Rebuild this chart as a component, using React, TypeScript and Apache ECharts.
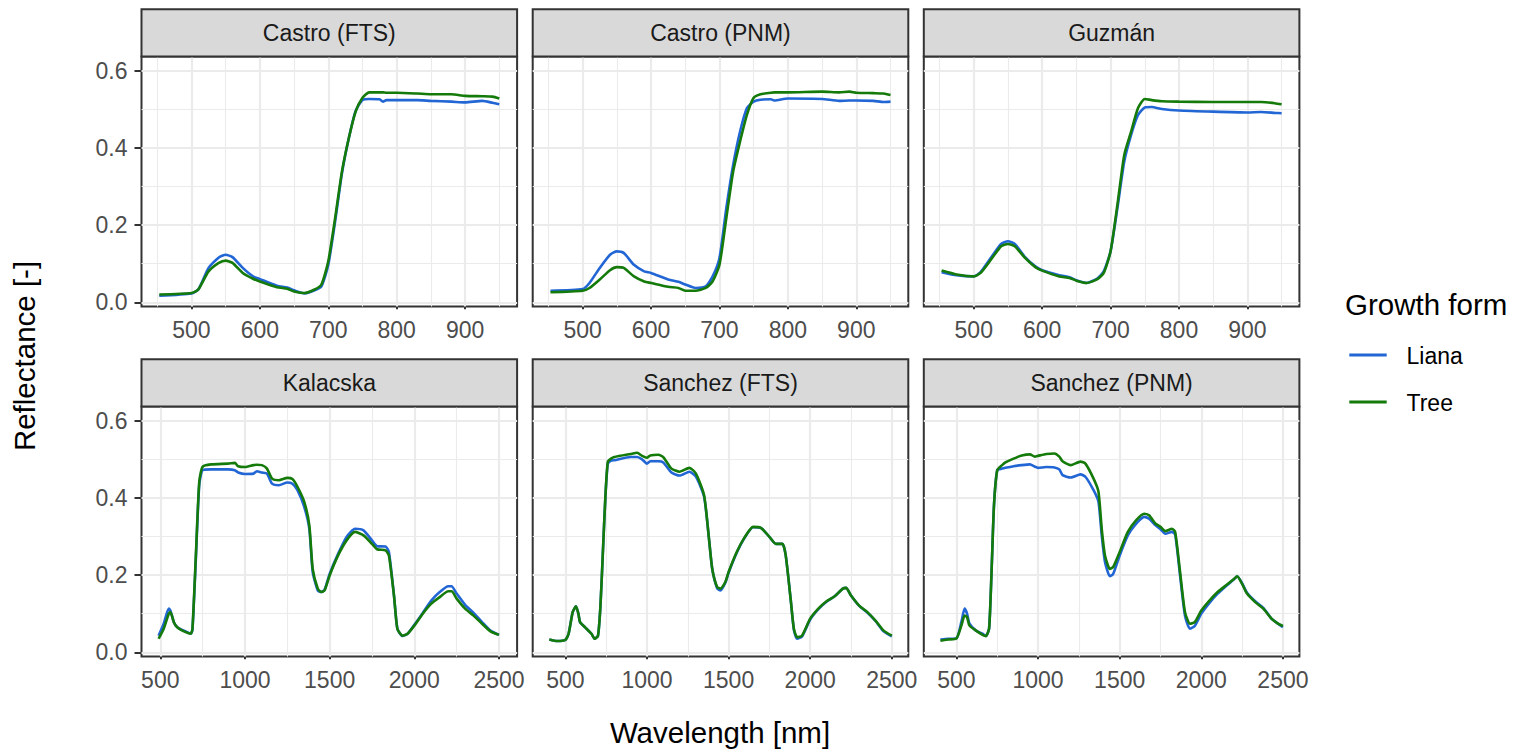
import React, { useEffect, useRef } from "react";
import * as echarts from "echarts";

const FONT = '"Liberation Sans", Arial, Helvetica, sans-serif';
const LIANA_COLOR = "#2166d4";
const TREE_COLOR = "#147a0a";

// ---- tick labels / grid values ----
const yTicks = [0, 0.2, 0.4, 0.6];
const yMinor = [0.1, 0.3, 0.5];
const topXTicks = [500, 600, 700, 800, 900];
const topXMinor = [450, 550, 650, 750, 850, 950];
const bottomXTicks = [500, 1000, 1500, 2000, 2500];
const bottomXMinor = [750, 1250, 1750, 2250];

// ---- Castro (FTS) ----
const castroFtsWl = [453, 500, 510, 525, 540, 550, 560, 575, 590, 600, 625, 640, 650, 665, 680, 690, 700, 710, 720, 730, 740, 750, 760, 775, 780, 785, 800, 830, 850, 880, 900, 925, 940, 950];
const castroFtsLiana = [0.017, 0.023, 0.033, 0.089, 0.116, 0.123, 0.117, 0.089, 0.067, 0.06, 0.043, 0.038, 0.031, 0.023, 0.031, 0.041, 0.097, 0.209, 0.334, 0.425, 0.496, 0.524, 0.527, 0.526, 0.52, 0.524, 0.524, 0.524, 0.522, 0.52, 0.518, 0.522, 0.517, 0.513];
const castroFtsTree = [0.02, 0.024, 0.033, 0.08, 0.102, 0.108, 0.102, 0.076, 0.061, 0.054, 0.039, 0.035, 0.028, 0.024, 0.033, 0.046, 0.106, 0.218, 0.339, 0.425, 0.494, 0.53, 0.544, 0.544, 0.544, 0.543, 0.543, 0.541, 0.539, 0.539, 0.535, 0.534, 0.533, 0.528];

// ---- Castro (PNM) ----
const castroPnmWl = [453, 500, 510, 525, 540, 550, 560, 575, 590, 600, 625, 640, 650, 665, 680, 690, 700, 710, 720, 730, 740, 750, 760, 775, 780, 800, 850, 875, 890, 900, 925, 940, 950];
const castroPnmLiana = [0.03, 0.034, 0.05, 0.089, 0.123, 0.132, 0.128, 0.097, 0.08, 0.076, 0.059, 0.053, 0.046, 0.037, 0.041, 0.067, 0.115, 0.244, 0.356, 0.442, 0.503, 0.52, 0.525, 0.526, 0.523, 0.528, 0.527, 0.522, 0.523, 0.523, 0.522, 0.519, 0.52];
const castroPnmTree = [0.026, 0.03, 0.037, 0.059, 0.083, 0.091, 0.089, 0.067, 0.054, 0.05, 0.04, 0.037, 0.03, 0.03, 0.037, 0.054, 0.097, 0.218, 0.339, 0.416, 0.485, 0.53, 0.539, 0.543, 0.544, 0.544, 0.546, 0.544, 0.546, 0.543, 0.542, 0.541, 0.537];

// ---- Guzmán ----
const guzmanWl = [453, 475, 500, 510, 525, 540, 550, 560, 575, 590, 600, 625, 640, 650, 665, 680, 690, 700, 710, 720, 730, 740, 750, 760, 775, 800, 850, 900, 920, 940, 950];
const guzmanLiana = [0.078, 0.07, 0.067, 0.078, 0.115, 0.151, 0.158, 0.151, 0.117, 0.093, 0.083, 0.07, 0.065, 0.057, 0.05, 0.061, 0.08, 0.132, 0.244, 0.365, 0.434, 0.485, 0.505, 0.506, 0.501, 0.497, 0.494, 0.492, 0.493, 0.491, 0.49];
const guzmanTree = [0.082, 0.072, 0.067, 0.076, 0.11, 0.145, 0.151, 0.145, 0.115, 0.091, 0.082, 0.067, 0.063, 0.056, 0.05, 0.059, 0.076, 0.132, 0.253, 0.382, 0.442, 0.503, 0.527, 0.524, 0.521, 0.52, 0.519, 0.519, 0.519, 0.516, 0.513];

// ---- Kalacska ----
const kalacskaWl = [490, 520, 550, 560, 580, 600, 650, 680, 690, 710, 730, 750, 800, 900, 940, 960, 1000, 1050, 1070, 1100, 1130, 1160, 1200, 1250, 1280, 1310, 1350, 1380, 1400, 1430, 1450, 1470, 1500, 1550, 1600, 1650, 1700, 1750, 1780, 1830, 1850, 1880, 1900, 1930, 1960, 2000, 2050, 2100, 2150, 2200, 2220, 2250, 2300, 2350, 2400, 2450, 2500];
const kalacskaLiana = [0.043, 0.074, 0.113, 0.108, 0.078, 0.065, 0.054, 0.048, 0.059, 0.242, 0.433, 0.472, 0.474, 0.474, 0.472, 0.466, 0.462, 0.463, 0.469, 0.466, 0.463, 0.437, 0.433, 0.44, 0.437, 0.42, 0.377, 0.32, 0.208, 0.16, 0.156, 0.162, 0.203, 0.255, 0.299, 0.32, 0.316, 0.29, 0.275, 0.274, 0.26, 0.147, 0.061, 0.042, 0.048, 0.071, 0.102, 0.134, 0.156, 0.171, 0.171, 0.152, 0.123, 0.102, 0.078, 0.056, 0.045];
const kalacskaTree = [0.035, 0.061, 0.1, 0.104, 0.078, 0.065, 0.052, 0.048, 0.061, 0.251, 0.442, 0.481, 0.487, 0.489, 0.491, 0.482, 0.48, 0.485, 0.486, 0.485, 0.476, 0.45, 0.446, 0.452, 0.449, 0.429, 0.39, 0.329, 0.216, 0.165, 0.156, 0.16, 0.199, 0.251, 0.29, 0.312, 0.303, 0.281, 0.267, 0.264, 0.251, 0.147, 0.061, 0.043, 0.048, 0.069, 0.1, 0.126, 0.143, 0.158, 0.158, 0.139, 0.113, 0.095, 0.074, 0.054, 0.045];

// ---- Sanchez (FTS) ----
const sanchezFtsWl = [402, 450, 500, 520, 545, 565, 580, 590, 620, 660, 680, 700, 715, 730, 745, 760, 780, 800, 900, 940, 970, 1000, 1020, 1070, 1100, 1150, 1200, 1260, 1300, 1350, 1380, 1400, 1430, 1450, 1480, 1500, 1550, 1600, 1650, 1700, 1750, 1790, 1830, 1850, 1880, 1900, 1920, 1950, 2000, 2050, 2100, 2150, 2200, 2220, 2250, 2300, 2350, 2400, 2450, 2500];
const sanchezFtsLiana = [0.033, 0.029, 0.032, 0.048, 0.104, 0.119, 0.1, 0.078, 0.065, 0.048, 0.035, 0.043, 0.12, 0.26, 0.4, 0.488, 0.497, 0.498, 0.506, 0.506, 0.5, 0.489, 0.495, 0.495, 0.492, 0.466, 0.458, 0.468, 0.455, 0.403, 0.294, 0.216, 0.166, 0.16, 0.18, 0.206, 0.258, 0.298, 0.324, 0.322, 0.299, 0.281, 0.281, 0.251, 0.139, 0.058, 0.035, 0.041, 0.085, 0.112, 0.131, 0.145, 0.165, 0.167, 0.147, 0.12, 0.103, 0.081, 0.054, 0.041];
const sanchezFtsTree = [0.033, 0.029, 0.032, 0.048, 0.104, 0.119, 0.1, 0.078, 0.065, 0.048, 0.035, 0.043, 0.12, 0.26, 0.4, 0.494, 0.502, 0.506, 0.514, 0.517, 0.509, 0.504, 0.51, 0.512, 0.506, 0.476, 0.468, 0.478, 0.463, 0.407, 0.294, 0.216, 0.169, 0.165, 0.182, 0.208, 0.26, 0.299, 0.325, 0.322, 0.299, 0.281, 0.281, 0.251, 0.139, 0.061, 0.039, 0.043, 0.087, 0.113, 0.132, 0.145, 0.165, 0.167, 0.147, 0.121, 0.104, 0.082, 0.056, 0.043];

// ---- Sanchez (PNM) ----
const sanchezPnmWl = [402, 450, 500, 530, 550, 565, 580, 620, 660, 680, 700, 715, 730, 750, 780, 800, 850, 900, 950, 980, 1000, 1050, 1100, 1130, 1150, 1200, 1260, 1290, 1340, 1370, 1390, 1410, 1440, 1460, 1500, 1550, 1600, 1650, 1680, 1720, 1750, 1780, 1820, 1840, 1870, 1900, 1930, 1960, 2000, 2050, 2100, 2150, 2200, 2220, 2250, 2280, 2330, 2380, 2430, 2470, 2500];
const sanchezPnmLiana = [0.033, 0.035, 0.036, 0.078, 0.113, 0.1, 0.074, 0.056, 0.048, 0.042, 0.061, 0.208, 0.381, 0.472, 0.476, 0.478, 0.482, 0.485, 0.487, 0.481, 0.478, 0.48, 0.479, 0.474, 0.459, 0.453, 0.461, 0.455, 0.42, 0.39, 0.303, 0.234, 0.197, 0.203, 0.251, 0.303, 0.333, 0.351, 0.346, 0.329, 0.319, 0.307, 0.312, 0.305, 0.199, 0.095, 0.061, 0.068, 0.1, 0.128, 0.152, 0.171, 0.189, 0.197, 0.179, 0.154, 0.132, 0.115, 0.087, 0.074, 0.065];
const sanchezPnmTree = [0.03, 0.033, 0.036, 0.069, 0.095, 0.091, 0.069, 0.056, 0.045, 0.042, 0.061, 0.208, 0.381, 0.472, 0.485, 0.492, 0.502, 0.51, 0.513, 0.507, 0.509, 0.514, 0.515, 0.507, 0.495, 0.485, 0.494, 0.489, 0.45, 0.416, 0.32, 0.251, 0.216, 0.221, 0.26, 0.312, 0.342, 0.359, 0.355, 0.333, 0.325, 0.314, 0.32, 0.312, 0.208, 0.104, 0.074, 0.078, 0.108, 0.134, 0.156, 0.173, 0.19, 0.197, 0.177, 0.152, 0.13, 0.113, 0.087, 0.074, 0.068];

const panelTitles = ["Castro (FTS)", "Castro (PNM)", "Guzmán", "Kalacska", "Sanchez (FTS)", "Sanchez (PNM)"];
const panelWl = [castroFtsWl, castroPnmWl, guzmanWl, kalacskaWl, sanchezFtsWl, sanchezPnmWl];
const panelLiana = [castroFtsLiana, castroPnmLiana, guzmanLiana, kalacskaLiana, sanchezFtsLiana, sanchezPnmLiana];
const panelTree = [castroFtsTree, castroPnmTree, guzmanTree, kalacskaTree, sanchezFtsTree, sanchezPnmTree];
const panelXMin = [427, 427, 427, 389, 300, 300];
const panelXMax = [976, 976, 976, 2607, 2601, 2601];

// layout
const COL_LEFT = [141.5, 532.7, 923.8];
const PANEL_W = 375.6;
const ROW_TOP = [56.5, 406.5];
const PANEL_H = 250;
const STRIP_H = 47.2;
const Y_MIN = -0.011;
const Y_MAX = 0.637;
const SMALL = 23;
const BIG = 29.5;

function buildOption() {
  const grids: any[] = [];
  const xAxes: any[] = [];
  const yAxes: any[] = [];
  const series: any[] = [];
  const graphics: any[] = [];

  for (let i = 0; i < 6; i++) {
    const row = Math.floor(i / 3);
    const col = i % 3;
    const left = COL_LEFT[col];
    const top = ROW_TOP[row];
    const isTop = row === 0;
    const xt = isTop ? topXTicks : bottomXTicks;
    const xm = isTop ? topXMinor : bottomXMinor;

    grids.push({
      left,
      top,
      width: PANEL_W,
      height: PANEL_H,
      show: true,
      backgroundColor: "#ffffff",
      borderColor: "#333333",
      borderWidth: 2,
      z: 0,
    });

    xAxes.push({
      type: "value",
      gridIndex: i,
      min: panelXMin[i],
      max: panelXMax[i],
      axisLine: { show: false },
      splitLine: { show: false },
      axisTick: {
        show: true,
        customValues: xt,
        length: 7,
        lineStyle: { color: "#333333", width: 2 },
      },
      axisLabel: {
        show: true,
        customValues: xt,
        fontSize: SMALL,
        color: "#4d4d4d",
        fontFamily: FONT,
        margin: 12,
        hideOverlap: false,
        formatter: (v: number) => String(Math.round(v)),
      },
    });

    yAxes.push({
      type: "value",
      gridIndex: i,
      min: Y_MIN,
      max: Y_MAX,
      axisLine: { show: false },
      splitLine: { show: false },
      axisTick: {
        show: col === 0,
        customValues: yTicks,
        length: 7,
        lineStyle: { color: "#333333", width: 2 },
      },
      axisLabel: {
        show: col === 0,
        customValues: yTicks,
        fontSize: SMALL,
        color: "#4d4d4d",
        fontFamily: FONT,
        margin: 14,
        formatter: (v: number) => v.toFixed(1),
      },
    });

    const majorStyle = { color: "#ebebeb", width: 2.2, type: "solid" };
    const minorStyle = { color: "#ebebeb", width: 1.1, type: "solid" };
    series.push({
      type: "line",
      name: "grid" + i,
      xAxisIndex: i,
      yAxisIndex: i,
      data: [],
      silent: true,
      z: 1,
      markLine: {
        z: 1,
        silent: true,
        symbol: ["none", "none"],
        label: { show: false },
        emphasis: { disabled: true },
        animation: false,
        data: [
          ...xm.map((v) => ({ xAxis: v, lineStyle: minorStyle })),
          ...yMinor.map((v) => ({ yAxis: v, lineStyle: minorStyle })),
          ...xt.map((v) => ({ xAxis: v, lineStyle: majorStyle })),
          ...yTicks.map((v) => ({ yAxis: v, lineStyle: majorStyle })),
        ],
      },
    });

    const wl = panelWl[i];
    series.push({
      type: "line",
      name: "Liana",
      xAxisIndex: i,
      yAxisIndex: i,
      data: wl.map((w, k) => [w, panelLiana[i][k]]),
      showSymbol: false,
      smooth: 0.2,
      lineStyle: { color: LIANA_COLOR, width: 2.6 },
      itemStyle: { color: LIANA_COLOR },
      z: 3,
      silent: true,
    });
    series.push({
      type: "line",
      name: "Tree",
      xAxisIndex: i,
      yAxisIndex: i,
      data: wl.map((w, k) => [w, panelTree[i][k]]),
      showSymbol: false,
      smooth: 0.2,
      lineStyle: { color: TREE_COLOR, width: 2.6 },
      itemStyle: { color: TREE_COLOR },
      z: 4,
      silent: true,
    });

    // strip
    graphics.push({
      type: "rect",
      shape: { x: left, y: top - STRIP_H, width: PANEL_W, height: STRIP_H },
      style: { fill: "#d9d9d9", stroke: "#333333", lineWidth: 2 },
      z: 10,
    });
    graphics.push({
      type: "text",
      x: left + PANEL_W / 2,
      y: top - STRIP_H / 2 + 0.5,
      style: {
        text: panelTitles[i],
        fontSize: SMALL,
        fontFamily: FONT,
        fill: "#1a1a1a",
        align: "center",
        verticalAlign: "middle",
      },
      z: 11,
    });
  }

  // axis titles
  graphics.push({
    type: "text",
    x: 720,
    y: 732,
    style: {
      text: "Wavelength [nm]",
      fontSize: BIG,
      fontFamily: FONT,
      fill: "#000000",
      align: "center",
      verticalAlign: "middle",
    },
  });
  graphics.push({
    type: "text",
    x: 24,
    y: 356,
    rotation: Math.PI / 2,
    style: {
      text: "Reflectance [-]",
      fontSize: BIG,
      fontFamily: FONT,
      fill: "#000000",
      align: "center",
      verticalAlign: "middle",
    },
  });

  // legend
  graphics.push({
    type: "text",
    x: 1345,
    y: 304,
    style: {
      text: "Growth form",
      fontSize: BIG,
      fontFamily: FONT,
      fill: "#000000",
      align: "left",
      verticalAlign: "middle",
    },
  });
  const legendItems = [
    { name: "Liana", color: LIANA_COLOR, y: 355 },
    { name: "Tree", color: TREE_COLOR, y: 402 },
  ];
  legendItems.forEach((it) => {
    graphics.push({
      type: "line",
      shape: { x1: 1349.3, y1: it.y, x2: 1386.7, y2: it.y },
      style: { stroke: it.color, lineWidth: 2.8 },
    });
    graphics.push({
      type: "text",
      x: 1406.5,
      y: it.y + 1,
      style: {
        text: it.name,
        fontSize: SMALL,
        fontFamily: FONT,
        fill: "#000000",
        align: "left",
        verticalAlign: "middle",
      },
    });
  });

  return {
    animation: false,
    backgroundColor: "#ffffff",
    grid: grids,
    xAxis: xAxes,
    yAxis: yAxes,
    series,
    graphic: graphics,
  };
}

export default function App() {
  const ref = useRef<HTMLDivElement>(null);
  useEffect(() => {
    if (!ref.current) return;
    const chart = echarts.init(ref.current, undefined, { renderer: "svg" });
    chart.setOption(buildOption() as any);
    return () => chart.dispose();
  }, []);
  return (
    <div
      ref={ref}
      style={{ position: "fixed", left: 0, top: 0, width: 1527, height: 753, background: "#fff" }}
    />
  );
}
